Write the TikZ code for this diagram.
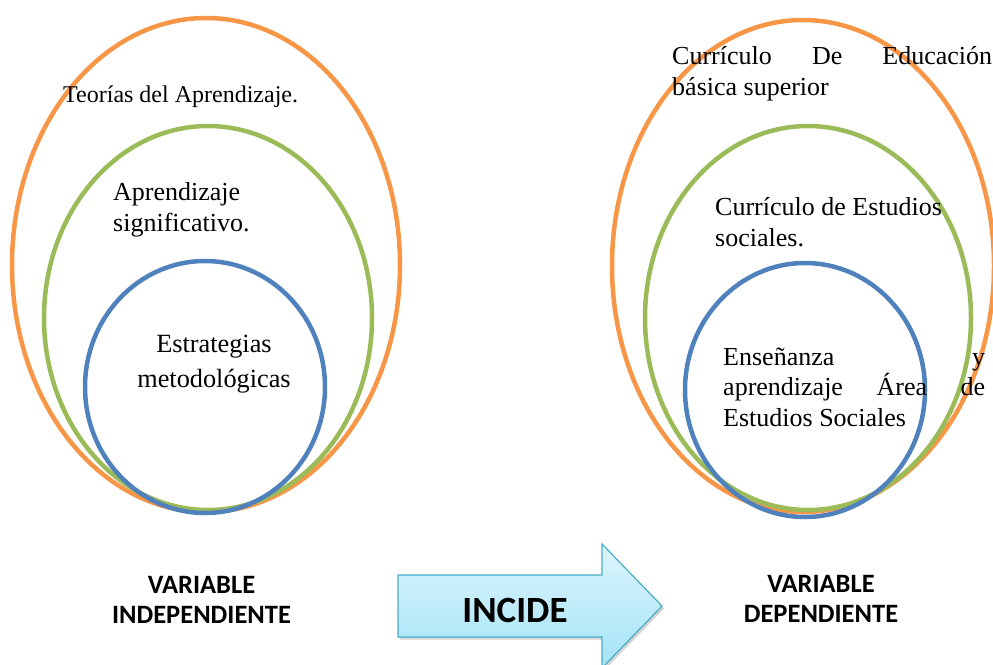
\documentclass[tikz,border=0pt]{standalone}
\usepackage{fontspec}
\setmainfont{Liberation Serif}
\newfontfamily\calib{Carlito}
\usetikzlibrary{shadows}
\definecolor{orng}{HTML}{F79646}
\definecolor{grn}{HTML}{9BBB59}
\definecolor{blu}{HTML}{4F81BD}
\definecolor{aqline}{HTML}{4BACC6}
\definecolor{aqtop}{HTML}{DDF5FD}
\definecolor{aqbot}{HTML}{A3E3F6}
\begin{document}
\begin{tikzpicture}[x=1pt,y=1pt,
  ring/.style={line width=4.5pt},
  txt/.style={inner sep=0pt, anchor=base west, font=\fontsize{26}{31}\selectfont},
  vlab/.style={inner sep=0pt, anchor=base, font=\calib\bfseries\fontsize{26.5}{30}\selectfont},
  bigarrow/.style={draw=aqline, line width=1.2pt, top color=aqtop, bottom color=aqbot,
    drop shadow={opacity=0.35, shadow xshift=2pt, shadow yshift=-2.5pt}}]
\useasboundingbox (0,0) rectangle (993,-664);
% left set
\draw[ring, orng] (206,-265) ellipse [x radius=194, y radius=247];
\draw[ring, grn] (208,-318) ellipse [x radius=164, y radius=192];
\draw[ring, blu] (205,-387) ellipse [x radius=120, y radius=126];
% right set
\draw[ring, orng] (803,-266) ellipse [x radius=191, y radius=246];
\draw[ring, grn] (808,-318) ellipse [x radius=163, y radius=192];
\draw[ring, blu] (805,-390) ellipse [x radius=120, y radius=127];
% left texts
\node[txt, font=\fontsize{24}{29}\selectfont] (teorias) at (63,-102) {Teorías del Aprendizaje.};
\node[txt] (signif) at (113,-200) {\parbox[t]{250pt}{Aprendizaje\\significativo.}};
\node[txt, anchor=base] (estrat) at (214,-352) {\parbox[t]{220pt}{\centering\fontsize{26.3}{35}\selectfont Estrategias\\metodológicas}};
% right texts
\node[txt] (curric) at (672,-64) {\parbox[t]{320pt}{\makebox[320pt][s]{Currículo De Educación}\\básica superior}};
\node[txt] (cures) at (715,-215) {\parbox[t]{260pt}{Currículo de Estudios\\sociales.}};
\node[txt, font=\fontsize{26}{30.5}\selectfont] (ensen) at (723,-365) {\parbox[t]{262pt}{\makebox[262pt][s]{Enseñanza y}\\\makebox[262pt][s]{aprendizaje Área de}\\Estudios Sociales}};
% bottom labels
\node[vlab] (vind) at (201.5,-593) {\parbox[t]{300pt}{\centering VARIABLE\\INDEPENDIENTE}};
\node[vlab] (vdep) at (821,-592) {\parbox[t]{300pt}{\centering VARIABLE\\DEPENDIENTE}};
% arrow
\path[bigarrow] (398,-575) -- (602,-575) -- (602,-544) -- (662,-606) -- (602,-668) -- (602,-637) -- (398,-637) -- cycle;
\node[inner sep=0pt, anchor=base, font=\calib\bfseries\fontsize{37}{40}\selectfont] (incide) at (515,-622) {INCIDE};
\end{tikzpicture}
\end{document}
